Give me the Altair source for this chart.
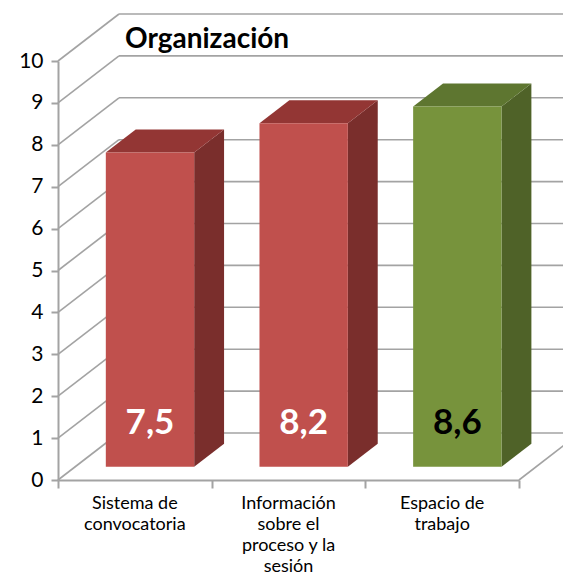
import altair as alt
import pandas as pd

# ---- data ----
categories = ["Sistema de convocatoria",
              "Información sobre el proceso y la sesión",
              "Espacio de trabajo"]
category_lines = [["Sistema de", "convocatoria"],
                  ["Información", "sobre el", "proceso y la", "sesión"],
                  ["Espacio de", "trabajo"]]
values = [7.5, 8.2, 8.6]
value_labels = ["7,5", "8,2", "8,6"]
front_colors = ["#C0504D", "#C0504D", "#77933C"]
top_colors = ["#933634", "#933634", "#5E7630"]
side_colors = ["#7A2E2C", "#7A2E2C", "#4F6228"]
label_colors = ["#FFFFFF", "#FFFFFF", "#000000"]
y_ticks = list(range(0, 11))
x_ticks = [0, 1, 2, 3]

# ---- layout / projection constants ----
W, H = 461, 419
XMAX, YMAX = 3, 10
DXU = 61 / (W / XMAX)      # depth offset in x units
DYU = 47 / (H / YMAX)      # depth offset in y units
F1, F2 = 0.28, 0.77        # bar front/back depth fractions
BL, BR = 0.20, 0.775       # bar left/right inside category band
FONT = "Lato"
GRID = "#A3A3A3"

xs = alt.Scale(domain=[0, XMAX], nice=False, zero=False)
ys = alt.Scale(domain=[0, YMAX], nice=False, zero=False)
x_axis = alt.Axis(values=x_ticks, labels=False, title=None, grid=False,
                  domainColor=GRID, domainWidth=2, tickColor=GRID,
                  tickWidth=2, tickSize=8)
y_axis = alt.Axis(values=y_ticks, title=None, grid=False, domainColor=GRID,
                  domainWidth=2, tickColor=GRID, tickWidth=2, tickSize=7,
                  labelFont=FONT, labelFontSize=21, labelColor="#000000",
                  labelPadding=8)

# ---- wall / floor segments ----
segs = []
for v in y_ticks:
    segs.append(dict(x=DXU, y=v + DYU, x2=XMAX + DXU, y2=v + DYU))
    segs.append(dict(x=0, y=v, x2=DXU, y2=v + DYU))
segs.append(dict(x=XMAX, y=0, x2=XMAX + DXU, y2=DYU))
seg_df = pd.DataFrame(segs)

walls = alt.Chart(seg_df).mark_rule(color=GRID, strokeWidth=1.6).encode(
    x=alt.X("x:Q", scale=xs, axis=x_axis),
    y=alt.Y("y:Q", scale=ys, axis=y_axis),
    x2="x2:Q", y2="y2:Q")

# ---- bar faces ----
side_rows, top_rows, front_rows, lab_rows = [], [], [], []
for i, v in enumerate(values):
    for f in (F1, F2):
        side_rows.append(dict(bar=i, c=side_colors[i], x=i + BR + f * DXU,
                              ylo=f * DYU, yhi=v + f * DYU))
        top_rows.append(dict(bar=i, c=top_colors[i], y=v + f * DYU,
                             xl=i + BL + f * DXU, xr=i + BR + f * DXU))
    front_rows.append(dict(bar=i, c=front_colors[i], xl=i + BL + F1 * DXU,
                           xr=i + BR + F1 * DXU, ylo=F1 * DYU, yhi=v + F1 * DYU,
                           xc=i + (BL + BR) / 2 + F1 * DXU,
                           t=value_labels[i], tc=label_colors[i]))
    lab_rows.append(dict(x=i + 0.5, y=0, t="\n".join(category_lines[i])))

side = alt.Chart(pd.DataFrame(side_rows)).mark_area(opacity=1).encode(
    x=alt.X("x:Q", scale=xs, axis=x_axis),
    y=alt.Y("yhi:Q", scale=ys, axis=y_axis, stack=None),
    y2="ylo:Q",
    fill=alt.Fill("c:N", scale=None),
    detail="bar:N")

top = alt.Chart(pd.DataFrame(top_rows)).mark_area(orient="horizontal", opacity=1).encode(
    y=alt.Y("y:Q", scale=ys, axis=y_axis),
    x=alt.X("xl:Q", scale=xs, axis=x_axis, stack=None),
    x2="xr:Q",
    fill=alt.Fill("c:N", scale=None),
    detail="bar:N")

front_df = pd.DataFrame(front_rows)
front = alt.Chart(front_df).mark_rect().encode(
    x=alt.X("xl:Q", scale=xs, axis=x_axis), x2="xr:Q",
    y=alt.Y("ylo:Q", scale=ys, axis=y_axis), y2="yhi:Q",
    fill=alt.Fill("c:N", scale=None))

vals = alt.Chart(front_df).mark_text(font=FONT, fontSize=35, fontWeight="bold",
                                     baseline="middle", align="center", dy=-44).encode(
    x=alt.X("xc:Q", scale=xs, axis=x_axis),
    y=alt.Y("ylo:Q", scale=ys, axis=y_axis),
    text="t:N",
    color=alt.Color("tc:N", scale=None))

cats = alt.Chart(pd.DataFrame(lab_rows)).mark_text(
    font=FONT, fontSize=18, lineBreak="\n", lineHeight=21, baseline="top",
    align="center", dy=15, color="#000000").encode(
    x=alt.X("x:Q", scale=xs, axis=x_axis),
    y=alt.Y("y:Q", scale=ys, axis=y_axis),
    text="t:N")

chart = alt.layer(walls, side, top, front, vals, cats).properties(
    width=W, height=H,
    title=alt.TitleParams("Organización", anchor="start", frame="group", dx=67,
                          offset=-63, baseline="alphabetic", font=FONT,
                          fontSize=28, fontWeight="bold", color="#000000"),
    autosize=alt.AutoSizeParams(type="none"),
    padding={"left": 50, "top": 53, "right": 44, "bottom": 99},
).configure_view(stroke=None)

chart.save("out.html", embed_options={"renderer": "svg", "actions": False})
